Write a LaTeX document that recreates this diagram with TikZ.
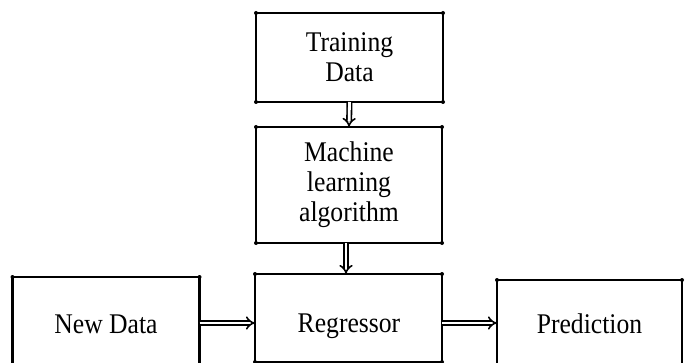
\documentclass[tikz,border=0pt]{standalone}
\usepackage{fontspec}
\setmainfont{Liberation Serif}[FakeStretch=0.9]
\usetikzlibrary{arrows.meta}
\begin{document}
\begin{tikzpicture}[x=1pt,y=-1pt,
  box/.style={draw, line width=2.5pt, inner sep=0pt, outer sep=0pt,
    align=center, font=\fontsize{28.5}{30}\selectfont},
  lbl/.style={anchor=base, inner sep=0pt, font=\fontsize{28.5}{30}\selectfont},
  dbl/.style={double, double distance=2.8pt, line width=1.6pt, -{Implies[scale=2.2]}},
  dot/.style={fill=black}]
\useasboundingbox (0,0) rectangle (687,363);
\clip (0,0) rectangle (687,363);

% boxes of the flow
\node[box, minimum width=187pt, minimum height=89pt] (train) at (349.5,57.5) {Training\\Data};
\node[box, minimum width=186pt, minimum height=116pt] (mla) at (349,185) {Machine\\learning\\algorithm};
\node[box, minimum width=187pt, minimum height=94pt] (newdata) at (106,324) {};
\node[box, minimum width=187pt, minimum height=88pt] (reg) at (348.5,318) {};
\node[box, minimum width=185pt, minimum height=88pt] (pred) at (589.5,324) {};

% labels of the bottom row
\node[lbl] (newdatatext) at (106,333) {New Data};
\node[lbl] (regtext) at (349,332) {Regressor};
\node[lbl] (predtext) at (589.5,333) {Prediction};

% small dots at the box corners
\foreach \n in {train,mla,newdata,reg,pred}
  \foreach \a in {north west,north east,south west,south east}
    \fill[dot] (\n.\a) circle (2pt);

% double arrows
\draw[dbl] (train.south) -- (mla.north);
\draw[dbl] ([xshift=-3pt]mla.south) -- ([xshift=-3pt]mla.south |- reg.north);
\draw[dbl] ([yshift=1pt]newdata.east) -- ([yshift=1pt]newdata.east -| reg.west);
\draw[dbl] ([yshift=1pt]reg.east |- newdata.east) -- ([yshift=1pt]pred.west |- newdata.east);
\end{tikzpicture}
\end{document}
